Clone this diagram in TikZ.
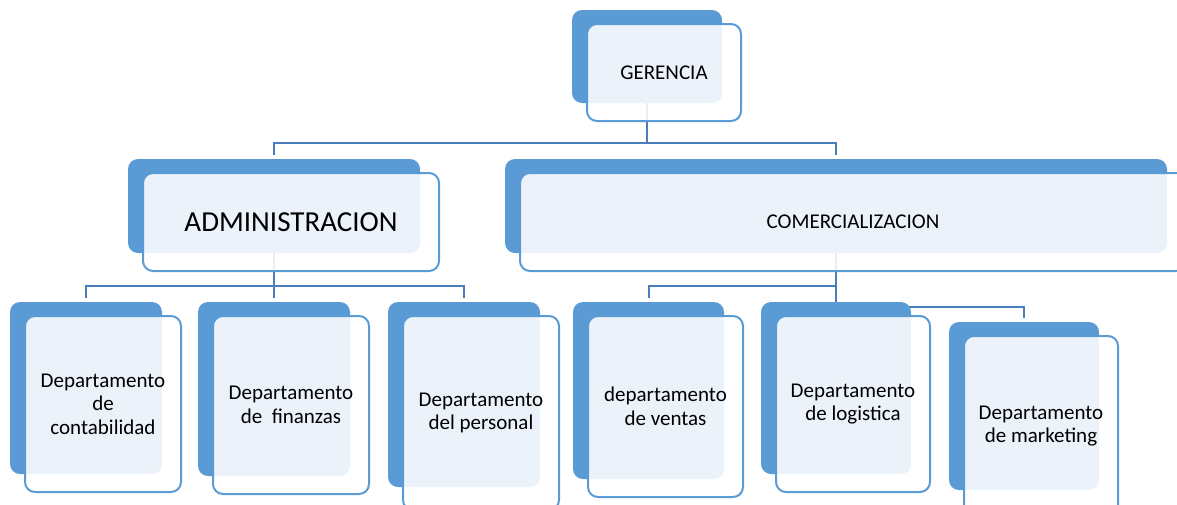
\documentclass[tikz,border=0pt]{standalone}
\usepackage{fontspec}
\setmainfont{Carlito}

\definecolor{boxblue}{HTML}{5B9BD5}
\definecolor{linkblue}{HTML}{4A7EBB}

\pgfdeclarelayer{bg}
\pgfsetlayers{bg,main}

\tikzset{
    back/.style 2 args={rectangle, rounded corners=7.5pt, fill=boxblue, inner sep=0pt,
        minimum width=#1*0.75pt, minimum height=#2*0.75pt},
    front/.style 2 args={rectangle, rounded corners=7.5pt, draw=boxblue, line width=1.5pt,
        fill=white, fill opacity=0.88, text opacity=1, inner sep=0pt, align=center,
        minimum width=#1*0.75pt+3pt, minimum height=#2*0.75pt+3pt,
        font=\fontsize{15.75}{17.6}\selectfont},
    link/.style={draw=linkblue, line width=1.5pt, shorten >=3pt},
}

\begin{document}
\begin{tikzpicture}[x=0.75pt, y=-0.75pt]

    \useasboundingbox (0,0) rectangle (1177,504);
    \clip (0,0) rectangle (1177,504);

    \node[back={150}{93}] (ger) at (647,56.5) {};
    \node[front={150}{93}] (ger-t) at ([shift={(17,16)}]ger.center) {GERENCIA};

    \node[back={292}{94}] (adm) at (274,206) {};
    \node[front={292}{94}, font=\fontsize{21.75}{26}\selectfont] (adm-t)
        at ([shift={(17,16)}]adm.center) {ADMINISTRACION};

    \node[back={662}{94}] (com) at (836,206) {};
    \node[front={662}{94}] (com-t) at ([shift={(17,16)}]com.center) {COMERCIALIZACION};

    \node[back={152}{172}] (cont) at (86,388) {};
    \node[front={152}{172}] (cont-t) at ([shift={(17,16)}]cont.center)
        {Departamento\\de\\contabilidad};

    \node[back={152}{174}] (fin) at (274,389) {};
    \node[front={152}{174}] (fin-t) at ([shift={(17,16)}]fin.center)
        {Departamento\\de\ \ finanzas};

    \node[back={152}{185}] (pers) at (464,394.5) {};
    \node[front={152}{190}] (pers-t) at ([shift={(17,18.5)}]pers.center)
        {Departamento\\del personal};

    \node[back={151}{177}] (vent) at (648.5,390.5) {};
    \node[front={151}{177}] (vent-t) at ([shift={(17,16)}]vent.center)
        {departamento\\de ventas};

    \node[back={150}{172}] (log) at (836,388) {};
    \node[front={150}{172}] (log-t) at ([shift={(17,16)}]log.center)
        {Departamento\\de logistica};

    \node[back={150}{168}] (mkt) at (1024,406) {};
    \node[front={150}{176}] (mkt-t) at ([shift={(17,20)}]mkt.center)
        {Departamento\\de marketing};

    \begin{pgfonlayer}{bg}
    \draw[link] (ger.south) -- ++(0,40) -| (adm.north);
    \draw[link] (ger.south) -- ++(0,40) -| (com.north);

    \draw[link] (adm.south) -- ++(0,33) -| (cont.north);
    \draw[link] (adm.south) -- (fin.north);
    \draw[link] (adm.south) -- ++(0,33) -| (pers.north);

    \draw[link] (com.south) -- ++(0,33) -| (vent.north);
    \draw[link] (com.south) -- (log.north);
    \draw[link] (com.south) -- ++(0,54) -| (mkt.north);
    \end{pgfonlayer}

\end{tikzpicture}
\end{document}
